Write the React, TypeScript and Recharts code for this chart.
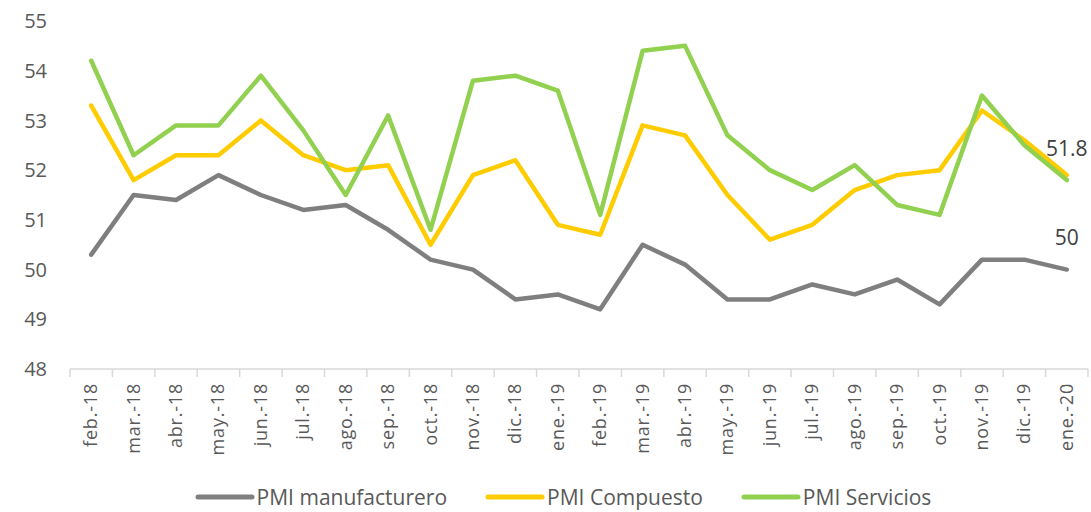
import React from "react";
import { LineChart, Line, XAxis, YAxis, Legend, LabelList } from "recharts";

const months = [
  "feb.-18", "mar.-18", "abr.-18", "may.-18", "jun.-18", "jul.-18", "ago.-18", "sep.-18",
  "oct.-18", "nov.-18", "dic.-18", "ene.-19", "feb.-19", "mar.-19", "abr.-19", "may.-19",
  "jun.-19", "jul.-19", "ago.-19", "sep.-19", "oct.-19", "nov.-19", "dic.-19", "ene.-20",
];
const manufacturero = [
  50.3, 51.5, 51.4, 51.9, 51.5, 51.2, 51.3, 50.8, 50.2, 50.0, 49.4, 49.5,
  49.2, 50.5, 50.1, 49.4, 49.4, 49.7, 49.5, 49.8, 49.3, 50.2, 50.2, 50.0,
];
const compuesto = [
  53.3, 51.8, 52.3, 52.3, 53.0, 52.3, 52.0, 52.1, 50.5, 51.9, 52.2, 50.9,
  50.7, 52.9, 52.7, 51.5, 50.6, 50.9, 51.6, 51.9, 52.0, 53.2, 52.6, 51.9,
];
const servicios = [
  54.2, 52.3, 52.9, 52.9, 53.9, 52.8, 51.5, 53.1, 50.8, 53.8, 53.9, 53.6,
  51.1, 54.4, 54.5, 52.7, 52.0, 51.6, 52.1, 51.3, 51.1, 53.5, 52.5, 51.8,
];
const yTicks = [48, 49, 50, 51, 52, 53, 54, 55];

const data = months.map((m, i) => ({
  month: m,
  man: manufacturero[i],
  comp: compuesto[i],
  serv: servicios[i],
}));

const series = [
  { key: "man", name: "PMI manufacturero", color: "#7f7f7f" },
  { key: "comp", name: "PMI Compuesto", color: "#ffcc00" },
  { key: "serv", name: "PMI Servicios", color: "#92d050" },
];

const FONT = "'Open Sans', sans-serif";
const lastIndex = months.length - 1;

const XTick = (props: any) => {
  const { x, y, payload, index, width, visibleTicksCount } = props;
  const half =
    payload && typeof payload.offset === "number" && payload.offset > 0
      ? payload.offset
      : width / (visibleTicksCount || months.length) / 2;
  return (
    <g>
      <line x1={x - half} x2={x - half} y1={y} y2={y + 8} stroke="#d9d9d9" strokeWidth={1.5} />
      {index === lastIndex && (
        <line x1={x + half} x2={x + half} y1={y} y2={y + 8} stroke="#d9d9d9" strokeWidth={1.5} />
      )}
      <text
        x={0}
        y={0}
        transform={`translate(${x + 6},${y + 14}) rotate(-90)`}
        textAnchor="end"
        fontFamily={FONT}
        fontSize={18}
        letterSpacing={0.8}
        fill="#595959"
      >
        {payload.value}
      </text>
    </g>
  );
};

const makeLastLabel = (show: boolean) => (props: any) => {
  const { x, y, index, value } = props;
  if (!show || index !== lastIndex) return null;
  return (
    <text
      x={x}
      y={y - 32}
      dy="0.355em"
      textAnchor="middle"
      fontFamily={FONT}
      fontSize={21}
      fill="#404040"
    >
      {value}
    </text>
  );
};

const LegendContent = () => (
  <div
    style={{
      display: "flex",
      justifyContent: "center",
      alignItems: "center",
      fontFamily: FONT,
      fontSize: 21,
      color: "#595959",
      paddingTop: 13,
      paddingLeft: 38,
    }}
  >
    {series.map((s, i) => (
      <div
        key={s.key}
        style={{ display: "flex", alignItems: "center", marginRight: i < series.length - 1 ? 38 : 0 }}
      >
        <svg width={60} height={8} style={{ marginRight: 2 }}>
          <line x1={3} x2={57} y1={4} y2={4} stroke={s.color} strokeWidth={5} strokeLinecap="round" />
        </svg>
        <span style={{ whiteSpace: "nowrap", lineHeight: "24px" }}>{s.name}</span>
      </div>
    ))}
  </div>
);

export default function App() {
  return (
    <div style={{ position: "absolute", left: 0, top: 0, background: "#fff" }}>
      <LineChart
        width={1091}
        height={512}
        data={data}
        margin={{ top: 21, right: 3, left: 0, bottom: 0 }}
      >
        <XAxis
          dataKey="month"
          scale="band"
          interval={0}
          height={103}
          tickLine={false}
          tickSize={0}
          tickMargin={0}
          axisLine={{ stroke: "#d9d9d9", strokeWidth: 1.5 }}
          tick={<XTick />}
        />
        <YAxis
          width={70}
          domain={[48, 55]}
          ticks={yTicks}
          interval={0}
          axisLine={false}
          tickLine={false}
          tickSize={0}
          tickMargin={23}
          tick={{ fontFamily: FONT, fontSize: 20, fill: "#595959" }}
        />
        <Legend verticalAlign="bottom" height={40} content={<LegendContent />} />
        {series.map((s) => (
          <Line
            key={s.key}
            type="linear"
            dataKey={s.key}
            name={s.name}
            stroke={s.color}
            strokeWidth={4.5}
            strokeLinejoin="round"
            strokeLinecap="round"
            dot={false}
            activeDot={false}
            isAnimationActive={false}
          >
            <LabelList dataKey={s.key} content={makeLastLabel(s.key !== "comp")} />
          </Line>
        ))}
      </LineChart>
    </div>
  );
}
